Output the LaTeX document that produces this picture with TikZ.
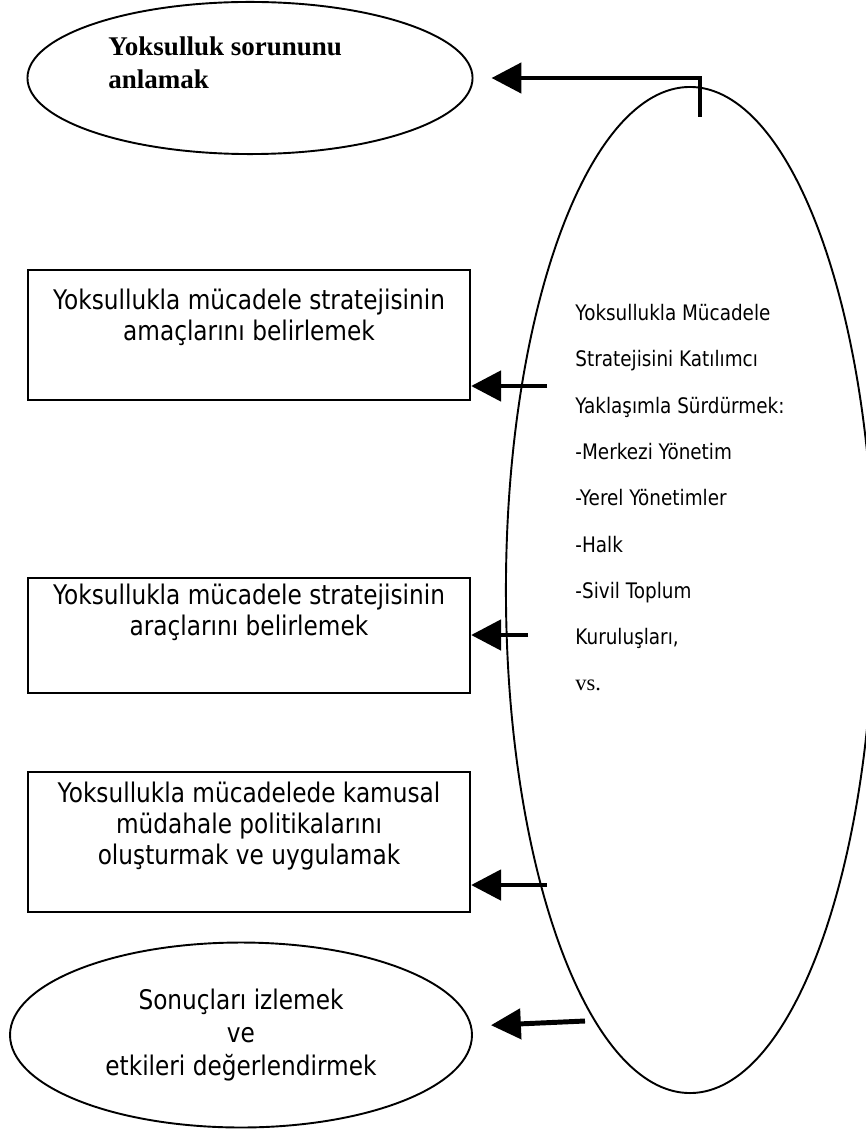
\documentclass[tikz,border=0pt]{standalone}
\usepackage{fontspec}
\setmainfont{Liberation Serif}
\newfontfamily\tahoma[FakeStretch=0.86]{DejaVu Sans}
\usetikzlibrary{arrows.meta,shapes.geometric}

\tikzstyle{oval}=[shape=ellipse, draw=black, line width=0.85pt, inner sep=0pt]
\tikzstyle{box}=[shape=rectangle, draw=black, line width=1pt,
                  minimum width=196.4pt]
\tikzstyle{boxtext}=[anchor=north, inner sep=0pt, align=center,
                  font=\tahoma\fontsize{12}{13.8}\selectfont]
\tikzstyle{toptext}=[anchor=north west, inner sep=0pt, align=left,
                  font=\bfseries\fontsize{12}{14.7}\selectfont]
\tikzstyle{side}=[anchor=base west, inner sep=0pt,
                  font=\tahoma\fontsize{9.5}{11}\selectfont]
\tikzstyle{fat}=[line width=2.2pt, -{Triangle[length=13.3pt, width=13.3pt]}]

\begin{document}
\begin{tikzpicture}[x=0.4444pt, y=-0.4444pt]
\useasboundingbox (0,0) rectangle (865,1130);

% nodes
\node[oval, minimum width=197.8pt, minimum height=67.6pt] (problem) at (250,78) {};
\node[toptext] (problemtext) at (108,36) {Yoksulluk sorununu\\anlamak};
\node[oval, minimum width=163.6pt, minimum height=447.1pt] (actors) at (690,590) {};
\node[box, minimum height=57.8pt,
      label={[boxtext, yshift=-8.7pt]north:{Yoksullukla mücadele stratejisinin\\amaçlarını belirlemek}}]
      (goals) at (249,335) {};
\node[box, minimum height=51.1pt,
      label={[boxtext, yshift=-2.9pt]north:{Yoksullukla mücadele stratejisinin\\araçlarını belirlemek}}]
      (tools) at (249,635.5) {};
\node[box, minimum height=62.2pt,
      label={[boxtext, yshift=-4.7pt]north:{Yoksullukla mücadelede kamusal\\müdahale politikalarını\\oluşturmak ve uygulamak}}]
      (policy) at (249,842) {};
\node[oval, minimum width=205.3pt, minimum height=82.2pt, align=center,
      font=\tahoma\fontsize{12}{14.7}\selectfont]
      (results) at (241,1035) {Sonuçları izlemek\\ve\\etkileri değerlendirmek};

\node[side] (l1) at (575,320) {Yoksullukla Mücadele};
\node[side] (l2) at (575,366) {Stratejisini Katılımcı};
\node[side] (l3) at (575,413) {Yaklaşımla Sürdürmek:};
\node[side] (l4) at (575,459) {-Merkezi Yönetim};
\node[side] (l5) at (575,505) {-Yerel Yönetimler};
\node[side] (l6) at (575,552) {-Halk};
\node[side] (l7) at (575,598) {-Sivil Toplum};
\node[side] (l8) at (575,644) {Kuruluşları,};
\node[side, font=\rmfamily\fontsize{10}{12}\selectfont] (l9) at (575,690) {vs.};

\coordinate (a0) at (700,117);
\coordinate (a1) at (547,386);
\coordinate (a2) at (528,635);
\coordinate (a3) at (547,885);
\coordinate (a4) at (585,1021);

% paths
\draw[fat, shorten >=8pt] (a0) |- (problem.east);
\draw[fat] (a1) -- (a1 -| goals.east);
\draw[fat] (a2) -- (a2 -| tools.east);
\draw[fat] (a3) -- (a3 -| policy.east);
\draw[fat, shorten >=8pt] (a4) -- ([yshift=4pt]results.east);

\end{tikzpicture}
\end{document}
